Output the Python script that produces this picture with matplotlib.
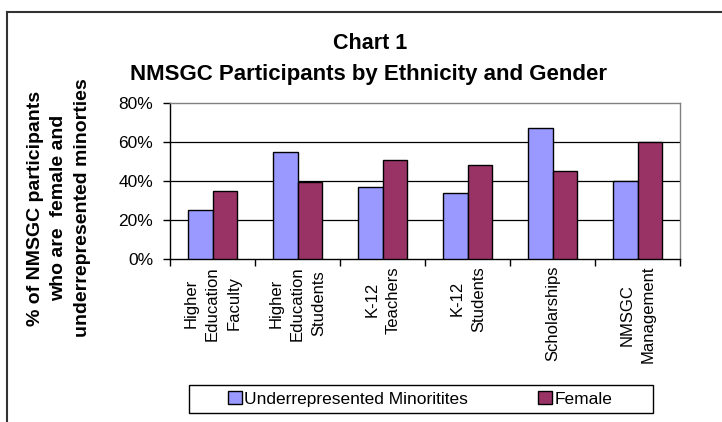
import matplotlib
matplotlib.use("Agg")
import matplotlib.pyplot as plt
import numpy as np
from matplotlib.lines import Line2D
from matplotlib.patches import Rectangle

plt.rcParams["font.family"] = ["Liberation Sans", "DejaVu Sans"]

CATEGORIES = [
    "Higher\nEducation\nFaculty",
    "Higher\nEducation\nStudents",
    "K-12\nTeachers",
    "K-12\nStudents",
    "Scholarships",
    "NMSGC\nManagement",
]
MINORITIES = [0.25, 0.55, 0.37, 0.34, 0.67, 0.40]
FEMALE = [0.35, 0.395, 0.51, 0.48, 0.45, 0.60]
Y_TICKS = [0.0, 0.2, 0.4, 0.6, 0.8]

BLUE = "#9999FF"
PLUM = "#993366"

W, H = 722, 422
fig = plt.figure(figsize=(W / 100, H / 100), dpi=100)
fig.patch.set_facecolor("white")

# plot area in pixel coords: x 170..680, y 103..259
ax = fig.add_axes([170 / W, 1 - 259 / H, 510 / W, 156 / H])

x = np.arange(len(CATEGORIES))
w = 0.294
ax.bar(x - w / 2, MINORITIES, width=w, color=BLUE, edgecolor="black", linewidth=1.0,
       label="Underrepresented Minoritites", zorder=3)
ax.bar(x + w / 2, FEMALE, width=w, color=PLUM, edgecolor="black", linewidth=1.0,
       label="Female", zorder=3)

ax.set_xlim(-0.5, len(CATEGORIES) - 0.5)
ax.set_ylim(0, 0.8)
ax.set_yticks(Y_TICKS)
ax.set_yticklabels([f"{int(round(v * 100))}%" for v in Y_TICKS], fontsize=12.5)
ax.tick_params(axis="y", direction="out", length=5, width=1, pad=7, color="black")

# category boundaries get the tick marks, labels sit at the centers
ax.set_xticks(np.arange(-0.5, len(CATEGORIES), 1.0))
ax.set_xticklabels([])
ax.tick_params(axis="x", which="major", direction="out", length=5, width=1, color="black")
ax.set_xticks(x, minor=True)
ax.set_xticklabels(CATEGORIES, minor=True, rotation=90, fontsize=12, va="top",
                   ha="center", multialignment="center", linespacing=1.55)
ax.tick_params(axis="x", which="minor", length=0, pad=5)

for v in Y_TICKS[1:-1]:
    ax.axhline(v, color="black", linewidth=0.9, zorder=1)

ax.spines["left"].set_color("black")
ax.spines["bottom"].set_color("black")
ax.spines["top"].set_color("#808080")
ax.spines["right"].set_color("#808080")
for s in ax.spines.values():
    s.set_linewidth(1.0)

# titles
fig.text(370 / W, 1 - 49 / H, "Chart 1", ha="center", va="baseline",
         fontsize=15.5, fontweight="bold")
fig.text(368 / W, 1 - 80 / H, "NMSGC Participants by Ethnicity and Gender",
         ha="center", va="baseline", fontsize=16, fontweight="bold")

fig.text(59 / W, 1 - 208 / H,
         "% of NMSGC participants\nwho are  female and\nunderrepresented minorties",
         rotation=90, ha="center", va="center", multialignment="center",
         fontsize=14, fontweight="bold", linespacing=1.5)

# legend with hand-drawn frame
handles, labels = ax.get_legend_handles_labels()
fig.legend(handles, labels, loc="center", bbox_to_anchor=(420 / W, 1 - 399 / H),
           ncol=2, frameon=False, fontsize=12.5, handlelength=0.8, handleheight=0.8,
           handletextpad=0.15, columnspacing=4.0, borderpad=0.2)
fig.add_artist(Rectangle((189 / W, 1 - 413 / H), 464 / W, 28 / H,
                         transform=fig.transFigure, fill=False,
                         edgecolor="black", linewidth=1.0))

# outer chart frame (cropped on the right and bottom)
fig.add_artist(Line2D([7 / W, 7 / W], [0, 1 - 12 / H], transform=fig.transFigure,
                      color="#333333", linewidth=1.5))
fig.add_artist(Line2D([7 / W, 1], [1 - 12 / H, 1 - 12 / H], transform=fig.transFigure,
                      color="#333333", linewidth=1.5))

fig.savefig("out.png", dpi=100)
